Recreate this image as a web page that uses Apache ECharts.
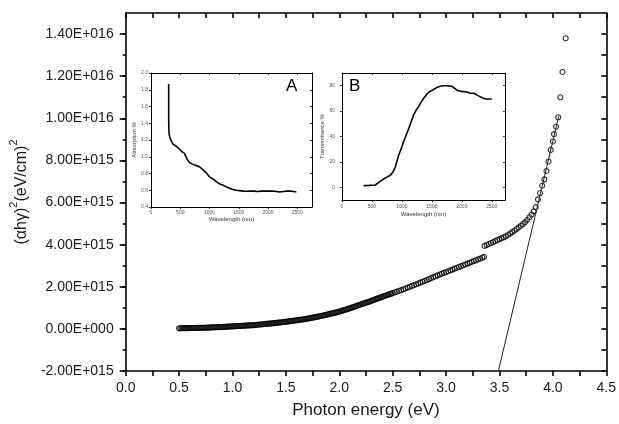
<!DOCTYPE html>
<html><head><meta charset="utf-8">
<script src="https://cdn.jsdelivr.net/npm/echarts@6/dist/echarts.min.js"></script>
<style>html,body{margin:0;padding:0;background:#fff}#c{width:619px;height:424px}</style>
</head><body><div id="c"></div>
<script>
// ---- main data: photon energy (eV) vs (alpha h nu)^2 in units of 1e15 (eV/cm)^2
const UNIT = 1e15;
const energy = [
0.5000,0.5125,0.5250,0.5375,0.5500,0.5625,0.5750,0.5875,0.6000,0.6125,0.6250,0.6375,0.6500,0.6625,0.6750,0.6875,
0.7000,0.7125,0.7250,0.7375,0.7500,0.7625,0.7750,0.7875,0.8000,0.8125,0.8250,0.8375,0.8500,0.8625,0.8750,0.8875,
0.9000,0.9125,0.9250,0.9375,0.9500,0.9625,0.9750,0.9875,1.0000,1.0125,1.0250,1.0375,1.0500,1.0625,1.0750,1.0875,
1.1000,1.1125,1.1250,1.1375,1.1500,1.1625,1.1750,1.1875,1.2000,1.2125,1.2250,1.2375,1.2500,1.2625,1.2750,1.2875,
1.3000,1.3125,1.3250,1.3375,1.3500,1.3625,1.3750,1.3875,1.4000,1.4125,1.4250,1.4375,1.4500,1.4625,1.4750,1.4875,
1.5000,1.5125,1.5250,1.5375,1.5500,1.5625,1.5750,1.5875,1.6000,1.6125,1.6250,1.6375,1.6500,1.6625,1.6750,1.6875,
1.7000,1.7125,1.7250,1.7375,1.7500,1.7625,1.7750,1.7875,1.8000,1.8125,1.8250,1.8375,1.8500,1.8625,1.8750,1.8875,
1.9000,1.9125,1.9250,1.9375,1.9500,1.9625,1.9750,1.9875,2.0000,2.0125,2.0250,2.0375,2.0500,2.0625,2.0750,2.0875,
2.1000,2.1125,2.1250,2.1375,2.1500,2.1625,2.1750,2.1875,2.2000,2.2125,2.2250,2.2375,2.2500,2.2625,2.2750,2.2875,
2.3000,2.3125,2.3250,2.3375,2.3500,2.3625,2.3750,2.3875,2.4000,2.4125,2.4250,2.4375,2.4500,2.4625,2.4750,2.4875,
2.50,2.52,2.54,2.56,2.58,2.60,2.62,2.64,2.66,2.68,2.70,2.72,2.74,2.76,2.78,2.80,2.82,2.84,2.86,2.88,
2.90,2.92,2.94,2.96,2.98,3.00,3.02,3.04,3.06,3.08,3.10,3.12,3.14,3.16,3.18,3.20,3.22,3.24,3.26,3.28,
3.30,3.32,3.34,3.355,
3.36,3.38,3.40,3.42,3.44,3.46,3.48,3.50,3.52,3.54,3.56,3.58,3.60,3.62,3.64,3.66,3.68,3.70,3.72,3.74,
3.76,3.78,3.80,3.82,3.84,3.86,3.88,3.90,3.92,3.94,3.96,3.98,4.00,4.01,4.03,4.05,4.07,4.09,4.12];
const ahv2 = [
0.030,0.031,0.032,0.033,0.034,0.035,0.036,0.038,0.040,0.041,0.042,0.044,0.045,0.047,0.048,0.049,
0.050,0.052,0.055,0.057,0.060,0.062,0.065,0.067,0.070,0.072,0.075,0.077,0.080,0.082,0.085,0.087,
0.090,0.093,0.097,0.101,0.105,0.108,0.112,0.116,0.120,0.123,0.127,0.131,0.135,0.138,0.142,0.146,
0.150,0.153,0.157,0.161,0.165,0.168,0.172,0.176,0.180,0.186,0.192,0.198,0.205,0.211,0.217,0.223,
0.230,0.236,0.242,0.248,0.255,0.261,0.267,0.273,0.280,0.287,0.295,0.302,0.310,0.317,0.325,0.332,
0.340,0.348,0.357,0.366,0.375,0.383,0.392,0.401,0.410,0.418,0.427,0.436,0.445,0.453,0.462,0.471,
0.490,0.500,0.511,0.522,0.533,0.545,0.557,0.569,0.582,0.596,0.610,0.624,0.638,0.653,0.668,0.684,
0.700,0.713,0.727,0.741,0.755,0.770,0.785,0.802,0.820,0.840,0.860,0.880,0.900,0.920,0.940,0.960,
0.980,1.002,1.025,1.047,1.070,1.092,1.115,1.137,1.160,1.181,1.202,1.223,1.245,1.266,1.287,1.308,
1.330,1.353,1.377,1.400,1.425,1.448,1.472,1.496,1.520,1.542,1.565,1.587,1.610,1.632,1.655,1.677,
1.70,1.74,1.77,1.81,1.84,1.88,1.92,1.96,2.00,2.04,2.08,2.12,2.16,2.20,2.24,2.28,2.32,2.37,2.41,2.46,
2.50,2.54,2.58,2.62,2.66,2.70,2.74,2.78,2.82,2.86,2.90,2.94,2.98,3.02,3.06,3.10,3.14,3.18,3.22,3.26,
3.30,3.34,3.38,3.42,
3.94,3.98,4.03,4.08,4.12,4.17,4.22,4.26,4.31,4.35,4.40,4.46,4.53,4.60,4.67,4.74,4.82,4.90,4.98,5.07,
5.18,5.30,5.43,5.58,5.78,6.15,6.45,6.80,7.10,7.50,7.95,8.50,8.90,9.25,9.60,10.05,11.0,12.2,13.8];
// tangent (linear fit) line end points
const fitE = [3.49, 4.055];
const fitV = [-2.0, 10.1];
// main axis ticks
const xLabelTicks = [0,0.5,1.0,1.5,2.0,2.5,3.0,3.5,4.0,4.5];
const xAllTicks = [0,0.25,0.5,0.75,1.0,1.25,1.5,1.75,2.0,2.25,2.5,2.75,3.0,3.25,3.5,3.75,4.0,4.25,4.5];
const yLabelTicks = [-2,0,2,4,6,8,10,12,14];
const yAllTicks = [-2,-1,0,1,2,3,4,5,6,7,8,9,10,11,12,13,14];

// ---- inset A: absorption % vs wavelength (nm)
const wlA = [302,302,305,310,320,340,371,400,440,485,530,571,610,656,700,750,828,880,940,999,1060,1120,1170,1230,1290,1341,1400,1460,1512,1580,1640,1700,1760,1820,1880,1940,2000,2060,2120,2197,2260,2320,2380,2440,2483];
const absA = [1.87,1.45,1.33,1.27,1.24,1.20,1.153,1.14,1.12,1.09,1.06,1.04,0.98,0.93,0.915,0.90,0.88,0.85,0.81,0.76,0.735,0.70,0.677,0.66,0.64,0.624,0.61,0.60,0.596,0.59,0.588,0.59,0.59,0.585,0.59,0.59,0.59,0.59,0.588,0.58,0.585,0.59,0.59,0.585,0.58];
const aXTicks = [0,500,1000,1500,2000,2500];
const aYTicks = [0.4,0.6,0.8,1.0,1.2,1.4,1.6,1.8,2.0];

// ---- inset B: transmittance % vs wavelength (nm)
const wlB = [361,450,555,620,694,750,806,850,889,944,1000,1028,1070,1111,1150,1194,1240,1278,1320,1361,1417,1470,1528,1580,1639,1694,1750,1833,1880,1917,1990,2083,2140,2194,2240,2278,2320,2361,2420,2500];
const transB = [1.3,1.5,1.8,4,6.5,8,9.5,12,16,25,32,36,41,46,51,57,61,63.5,67,70,73.5,75.5,77,78.5,79.5,80,80,79.5,78,76.5,75.5,75,74,74,73,72,71,70,69.5,69.5];
const bXTicks = [0,500,1000,1500,2000,2500];
const bYTicks = [0,20,40,60,80];

const FONT = '"Liberation Sans", Arial, sans-serif';
const TXT = '#1a1a1a';
const AX = {color:'#000', width:1.6};

function sci(v){
  if (Math.abs(v) < 1) return '0.00E+000';
  const e = Math.floor(Math.log10(Math.abs(v)) + 1e-9);
  const m = v / Math.pow(10, e);
  return m.toFixed(2) + 'E+' + String(e).padStart(3, '0');
}

function baseAxis(o){
  return Object.assign({type:'value', z:3, splitLine:{show:false}, axisLine:{show:true, onZero:false, lineStyle:AX}}, o);
}

const mainData = energy.map((e,i)=>[e, ahv2[i]*UNIT]);
const fitData = fitE.map((e,i)=>[e, fitV[i]*UNIT]);

const insetAxisLine = {show:true, onZero:false, lineStyle:{color:'#000', width:1}};
const insetTick = {color:'#000', width:0.8};
const insetLabel = {fontSize:5, color:'#555', fontFamily:FONT, formatter:v=>String(v)};

const option = {
  animation:false,
  backgroundColor:'#fff',
  grid:[
    {left:123, top:13, width:488, height:358},
    {left:151, top:73, width:161, height:134},
    {left:342, top:73, width:163, height:127}
  ],
  xAxis:[
    baseAxis({gridIndex:0, position:'bottom', min:0, max:4.5,
      name:'Photon energy (eV)', nameLocation:'middle', nameGap:31,
      nameTextStyle:{fontSize:17, color:TXT, fontFamily:FONT},
      axisTick:{show:true, length:5, customValues:xAllTicks, lineStyle:AX},
      axisLabel:{customValues:xLabelTicks, margin:10, fontSize:14, color:TXT, fontFamily:FONT, formatter:v=>v.toFixed(1)}}),
    baseAxis({gridIndex:0, position:'top', min:0, max:4.5,
      axisTick:{show:true, inside:true, length:5, customValues:xAllTicks, lineStyle:AX},
      axisLabel:{show:false}}),
    baseAxis({gridIndex:1, position:'bottom', min:0, max:2750,
      name:'Wavelength (nm)', nameLocation:'middle', nameGap:7,
      nameTextStyle:{fontSize:6, color:'#333', fontFamily:FONT},
      axisLine:insetAxisLine,
      axisTick:{show:true, length:2, customValues:aXTicks, lineStyle:insetTick},
      axisLabel:Object.assign({customValues:aXTicks, margin:3}, insetLabel)}),
    baseAxis({gridIndex:1, position:'top', min:0, max:2750, axisLine:insetAxisLine,
      axisTick:{show:true, inside:true, length:2, customValues:aXTicks, lineStyle:insetTick},
      axisLabel:{show:false}}),
    baseAxis({gridIndex:2, position:'bottom', min:0, max:2720,
      name:'Wavelength (nm)', nameLocation:'middle', nameGap:11,
      nameTextStyle:{fontSize:6, color:'#333', fontFamily:FONT},
      axisLine:insetAxisLine,
      axisTick:{show:true, length:2, customValues:bXTicks, lineStyle:insetTick},
      axisLabel:Object.assign({customValues:bXTicks, margin:4}, insetLabel)}),
    baseAxis({gridIndex:2, position:'top', min:0, max:2720, axisLine:insetAxisLine,
      axisTick:{show:true, inside:true, length:2, customValues:bXTicks, lineStyle:insetTick},
      axisLabel:{show:false}})
  ],
  yAxis:[
    baseAxis({gridIndex:0, position:'left', min:-2*UNIT, max:15*UNIT,
      name:'{t|(αhγ)}{s|2}{t|(eV/cm)}{s|2}', nameLocation:'middle', nameGap:83,
      nameTextStyle:{color:TXT, fontFamily:FONT, rich:{
        t:{fontSize:16, color:TXT, fontFamily:FONT, lineHeight:22, verticalAlign:'bottom'},
        s:{fontSize:11, color:TXT, fontFamily:FONT, lineHeight:22, verticalAlign:'top'}}},
      axisTick:{show:true, length:6, customValues:yLabelTicks.map(v=>v*UNIT), lineStyle:AX},
      axisLabel:{customValues:yLabelTicks.map(v=>v*UNIT), margin:12, fontSize:14, color:TXT, fontFamily:FONT, formatter:sci}}),
    baseAxis({gridIndex:0, position:'left', min:-2*UNIT, max:15*UNIT,
      axisLine:{show:false, onZero:false},
      axisTick:{show:true, length:3, customValues:yAllTicks.map(v=>v*UNIT), lineStyle:AX},
      axisLabel:{show:false}}),
    baseAxis({gridIndex:0, position:'right', min:-2*UNIT, max:15*UNIT,
      axisTick:{show:true, inside:true, length:5, customValues:yAllTicks.map(v=>v*UNIT), lineStyle:AX},
      axisLabel:{show:false}}),
    baseAxis({gridIndex:1, position:'left', min:0.4, max:2.0,
      name:'Absorption %', nameLocation:'middle', nameGap:12,
      nameTextStyle:{fontSize:6, color:'#333', fontFamily:FONT},
      axisLine:insetAxisLine,
      axisTick:{show:true, length:2, customValues:aYTicks, lineStyle:insetTick},
      axisLabel:Object.assign({}, insetLabel, {customValues:aYTicks, margin:3, formatter:v=>v.toFixed(1)})}),
    baseAxis({gridIndex:1, position:'right', min:0.4, max:2.0, axisLine:insetAxisLine,
      axisTick:{show:true, inside:true, length:2, customValues:aYTicks, lineStyle:insetTick},
      axisLabel:{show:false}}),
    baseAxis({gridIndex:2, position:'left', min:-10, max:90,
      name:'Transmittance %', nameLocation:'middle', nameGap:13,
      nameTextStyle:{fontSize:6, color:'#333', fontFamily:FONT},
      axisLine:insetAxisLine,
      axisTick:{show:true, length:2, customValues:bYTicks, lineStyle:insetTick},
      axisLabel:Object.assign({customValues:bYTicks, margin:7}, insetLabel)}),
    baseAxis({gridIndex:2, position:'right', min:-10, max:90, axisLine:insetAxisLine,
      axisTick:{show:true, inside:true, length:2, customValues:bYTicks, lineStyle:insetTick},
      axisLabel:{show:false}})
  ],
  series:[
    {type:'scatter', xAxisIndex:0, yAxisIndex:0, data:mainData, symbol:'circle', symbolSize:5,
      itemStyle:{color:'rgba(0,0,0,0)', borderColor:'#000', borderWidth:1.1}, silent:true},
    {type:'line', xAxisIndex:0, yAxisIndex:0, data:fitData, showSymbol:false,
      lineStyle:{color:'#222', width:1}, silent:true},
    {type:'line', xAxisIndex:2, yAxisIndex:3, data:wlA.map((w,i)=>[w,absA[i]]), showSymbol:false,
      lineStyle:{color:'#000', width:1.6}, silent:true},
    {type:'line', xAxisIndex:4, yAxisIndex:5, data:wlB.map((w,i)=>[w,transB[i]]), showSymbol:false,
      lineStyle:{color:'#000', width:1.6}, silent:true}
  ],
  graphic:[
    {type:'text', left:286, top:78, z:100, style:{text:'A', fontSize:17, fill:'#000', fontFamily:FONT}},
    {type:'text', left:349, top:78, z:100, style:{text:'B', fontSize:17, fill:'#000', fontFamily:FONT}}
  ]
};
const chart = echarts.init(document.getElementById('c'), null, {renderer:'canvas'});
chart.setOption(option);
</script></body></html>
